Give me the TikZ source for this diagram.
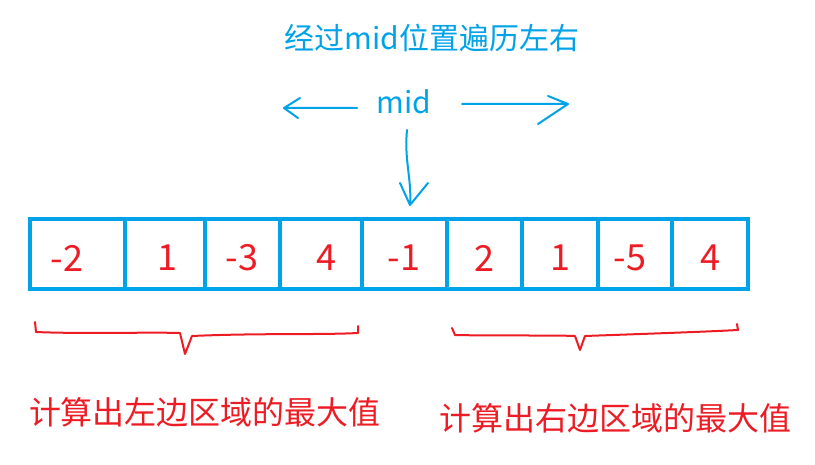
\documentclass[tikz,border=0pt]{standalone}
\usepackage{fontspec}
\setmainfont{Noto Sans CJK SC}
\definecolor{cy}{RGB}{0,162,232}
\definecolor{rd}{RGB}{237,28,36}
\begin{document}
\begin{tikzpicture}[x=1pt,y=-1pt,
  num/.style={text=rd,font=\fontsize{36}{36}\selectfont},
  lab/.style={text=rd,font=\fontsize{32}{32}\selectfont},
  bl/.style={text=cy,font=\fontsize{30}{30}\selectfont},
  arr/.style={cy,line width=2pt,line cap=round},
  br/.style={rd,line width=2pt,line cap=round,line join=round}]
\useasboundingbox (0,0) rectangle (815,465);
\node[bl] (title) at (432,38) {经过mid位置遍历左右};
\node[bl] (mid) at (404,102) {mid};
\coordinate (l1) at (357,108); \coordinate (l2) at (284,108);
\coordinate (r1) at (462,104); \coordinate (r2) at (568,104);
\coordinate (d1) at (407,130); \coordinate (d2) at (410,205);
\draw[arr] (l1) -- (l2) (l2) -- (300,98) (l2) -- (298,118);
\draw[arr] (r1) -- (r2) (r2) -- (548,96) (r2) -- (538,124);
\draw[arr] (d1) .. controls (404,160) and (412,180) .. (d2) (d2) -- (400,183) (d2) -- (428,183);
\draw[cy,line width=4pt] (30,219) rectangle (748,289);
\foreach \x in {125,205,280,362,447,522,598,672}
  \draw[cy,line width=4pt] (\x,219) -- (\x,289);
\foreach \x/\v [count=\i] in {67/-2,167/1,242/-3,326/4,404/-1,484/2,560/1,630/-5,710/4}
  \node[num] (n\i) at (\x,258) {\v};
\draw[br] (35,322) -- (36,332) .. controls (80,334) and (150,332) .. (180,333) -- (185,354) -- (192,336) .. controls (260,333) and (320,335) .. (358,333) -- (358,326);
\draw[br] (452,328) -- (455,335) .. controls (500,336) and (550,335) .. (575,336) -- (580,350) -- (585,336) .. controls (640,334) and (700,332) .. (738,330) -- (737,324);
\node[lab] (ll) at (205,412) {计算出左边区域的最大值};
\node[lab] (rl) at (615,418) {计算出右边区域的最大值};
\end{tikzpicture}
\end{document}
